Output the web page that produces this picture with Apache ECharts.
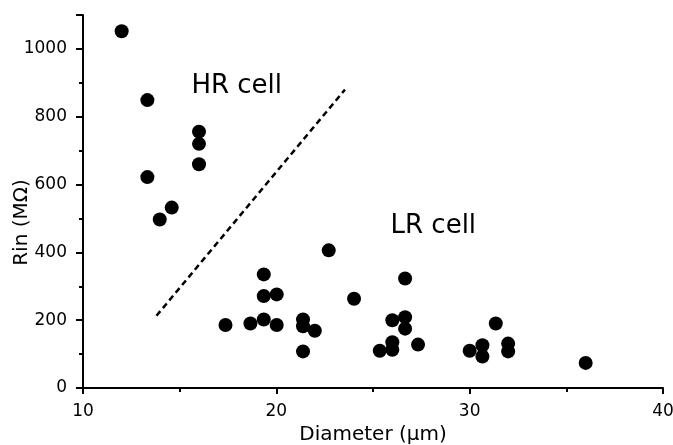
<!DOCTYPE html>
<html>
<head>
<meta charset="utf-8">
<script src="https://cdn.jsdelivr.net/npm/echarts@6/dist/echarts.min.js"></script>
<style>
  html, body { margin: 0; padding: 0; background: #fff; }
  #chart { width: 673px; height: 445px; }
</style>
</head>
<body>
<div id="chart"></div>
<script>
// Cell diameter (µm) against input resistance (MΩ)
const diameter = [
  12.0, 13.33, 13.33, 16.0, 16.0, 16.0, 13.97, 14.59,
  17.37, 18.66, 19.35, 19.35, 19.35, 20.02, 20.02,
  21.38, 21.38, 21.38, 21.99, 22.71, 24.02,
  25.35, 26.0, 26.0, 26.0, 26.66, 26.66, 26.66, 27.33,
  30.0, 30.66, 30.66, 31.35, 31.99, 31.99, 36.0
];
const rin = [
  1052, 849, 622, 756, 720, 660, 497, 532,
  186, 190, 335, 271, 202, 276, 186,
  202, 182, 108, 169, 406, 263,
  110, 200, 135, 113, 323, 209, 175, 128,
  110, 126, 93, 190, 131, 108, 74
];

// Dashed boundary separating the two cell groups
const boundaryX = [13.8, 23.55];
const boundaryY = [213, 880];

// Group labels and where they sit in data space
const groupNames = ['HR cell', 'LR cell'];
const groupX = [17.95, 28.12];
const groupY = [890, 478];

const xTicks = [10, 20, 30, 40];
const yTicks = [0, 200, 400, 600, 800, 1000];

const ink = '#000';
const font = '"DejaVu Sans", sans-serif';

const chart = echarts.init(document.getElementById('chart'));
chart.setOption({
  backgroundColor: '#fff',
  animation: false,
  grid: {
    left: 83, right: 10, top: 15, bottom: 57,
    containLabel: false,
    outerBoundsMode: 'none'
  },
  xAxis: {
    type: 'value',
    min: 10, max: 40, interval: 10,
    name: 'Diameter (μm)',
    nameLocation: 'middle',
    nameGap: 37,
    nameMoveOverlap: false,
    nameTextStyle: { color: ink, fontSize: 20, fontFamily: font },
    axisLine: { show: true, onZero: false, lineStyle: { color: ink, width: 2 } },
    axisTick: { show: true, length: 6, lineStyle: { color: ink, width: 2 } },
    minorTick: { show: true, splitNumber: 2, length: 4, lineStyle: { color: ink, width: 2 } },
    axisLabel: {
      color: ink, fontSize: 17, fontFamily: font, margin: 15,
      formatter: v => xTicks.includes(v) ? String(v) : ''
    },
    splitLine: { show: false }
  },
  yAxis: {
    type: 'value',
    min: 0, max: 1100, interval: 200,
    name: 'Rin (MΩ)',
    nameLocation: 'middle',
    nameGap: 51,
    nameMoveOverlap: false,
    nameRotate: 90,
    // extra room at the text's end pulls the title lower along the axis
    nameTextStyle: { color: ink, fontSize: 20, fontFamily: font, padding: [0, 42, 0, 0] },
    axisLine: { show: true, onZero: false, lineStyle: { color: ink, width: 2 } },
    axisTick: { show: true, length: 7, lineStyle: { color: ink, width: 2 } },
    minorTick: { show: true, splitNumber: 2, length: 4, lineStyle: { color: ink, width: 2 } },
    axisLabel: {
      color: ink, fontSize: 17, fontFamily: font, margin: 16,
      formatter: v => yTicks.includes(v) ? String(v) : ''
    },
    splitLine: { show: false }
  },
  series: [
    {
      type: 'scatter',
      symbol: 'circle',
      symbolSize: 14,
      itemStyle: { color: ink, opacity: 1 },
      data: diameter.map((d, i) => [d, rin[i]])
    },
    {
      type: 'line',
      symbol: 'none',
      lineStyle: { color: ink, width: 2.5, type: [6, 4] },
      data: boundaryX.map((x, i) => [x, boundaryY[i]])
    },
    {
      type: 'scatter',
      symbolSize: 0,
      silent: true,
      itemStyle: { opacity: 1 },
      label: {
        show: true,
        position: 'inside',
        color: ink,
        fontSize: 26,
        fontFamily: font,
        formatter: p => p.data.name
      },
      data: groupNames.map((n, i) => ({ name: n, value: [groupX[i], groupY[i]] }))
    }
  ]
});
</script>
</body>
</html>
